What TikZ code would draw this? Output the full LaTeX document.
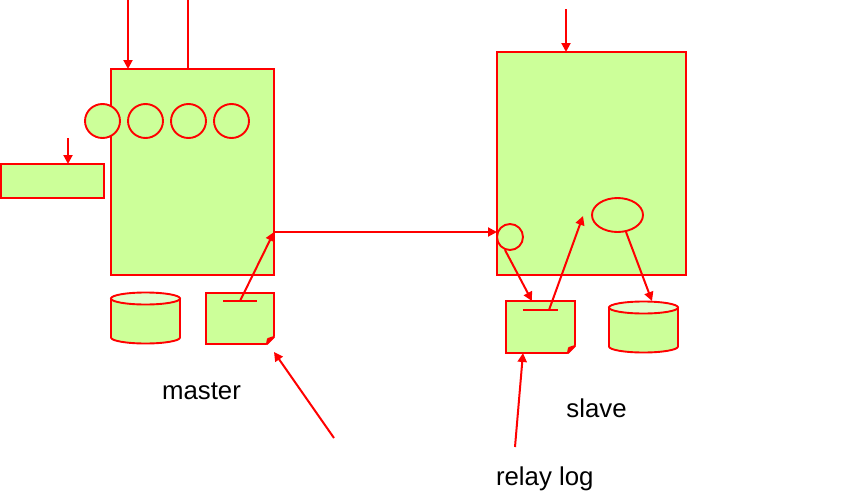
\documentclass[tikz,border=0pt]{standalone}
\usepackage{fontspec}
\setmainfont{Liberation Sans}
\usetikzlibrary{arrows.meta, shapes.geometric}

\definecolor{boxgreen}{HTML}{CCFF99}
\definecolor{boxlight}{HTML}{E0FFCC}

\tikzset{thick line/.style={draw=red, line width=2pt}}
\tikzset{thin line/.style={draw=red, line width=1.9pt}}

% folded corner of a log sheet
\newcommand{\dogear}[1]{
	\fill[white] ([shift={(-8,1)}]#1.south east) -- ([shift={(1,1)}]#1.south east) -- ([shift={(1,-8)}]#1.south east) -- cycle;
	\draw[thick line, fill=red, line join=round] ([shift={(-7,0)}]#1.south east) -- ([shift={(-6,-5)}]#1.south east) -- ([shift={(0,-7)}]#1.south east) -- cycle;
}

% drum outline over an empty node
\newcommand{\drum}[1]{
	\draw[thin line, fill=boxgreen] ([yshift=-6pt]#1.north west) -- ([yshift=6pt]#1.south west) arc[start angle=180, end angle=360, x radius=34.5pt, y radius=6pt] -- ([yshift=-6pt]#1.north east) -- cycle;
	\draw[thin line, fill=boxlight] ([yshift=-6pt]#1.north) ellipse[x radius=34.5pt, y radius=6pt];
}

\begin{document}
\begin{tikzpicture}[x=1pt, y=-1pt,
		box/.style={rectangle, thick line, fill=boxgreen, inner sep=0pt, outer sep=0pt},
		c/.style={ellipse, thin line, fill=boxgreen, inner sep=0pt, outer sep=0pt, minimum width=35pt, minimum height=34pt},
		db/.style={rectangle, inner sep=0pt, outer sep=0pt, minimum width=69pt, minimum height=51pt},
		sheet/.style={box, minimum width=68pt, minimum height=51pt},
		link/.style={-{Triangle[length=9pt, width=9pt]}, thick line},
		caption/.style={font=\fontsize{25.8}{30}\selectfont, inner sep=0pt}]
		\useasboundingbox (0,0) rectangle (863,501);

		\node [box, minimum width=163pt, minimum height=206pt] (master) at (192.5,172) {};
		\node [box, minimum width=189pt, minimum height=223pt] (slave) at (591.5,163.5) {};
		\node [box, minimum width=103pt, minimum height=34pt] (queue) at (52.5,181) {};

		\node [c] (t1) at (102.5,121) {};
		\node [c] (t2) at (145.5,121) {};
		\node [c] (t3) at (188.5,121) {};
		\node [c] (t4) at (231.5,121) {};
		\node [c, minimum width=26pt, minimum height=26pt] (io) at (510,237) {};
		\node [c, minimum width=51pt, minimum height=34pt] (sql) at (617.5,215) {};

		\node [db] (mdata) at (145.5,318) {};
		\node [db] (sdata) at (643.5,327) {};
		\drum{mdata}
		\drum{sdata}
		\node [sheet] (binlog) at (240,318.5) {};
		\node [sheet, minimum width=69pt, minimum height=52pt] (relay) at (540.5,327) {};
		\dogear{binlog}
		\dogear{relay}

		\node [caption] (mlabel) at (201.5,391) {master};
		\node [caption] (slabel) at (596.5,408) {slave};
		\node [caption] (rlabel) at (544.8,479) {relay log};

		% free ends and points on the borders
		\coordinate (in1) at (128,0);
		\coordinate (in1e) at (128,69);
		\coordinate (in2) at (188,0);
		\coordinate (in2e) at (188,69);
		\coordinate (q1) at (68,138);
		\coordinate (q1e) at (68,164);
		\coordinate (in3) at (566,9);
		\coordinate (in3e) at (566,52);
		\coordinate (send) at (274,232);
		\coordinate (recv) at (497,232);
		\coordinate (mt1) at (223,301);
		\coordinate (mt2) at (257,301);
		\coordinate (mt) at (240,301);
		\coordinate (st1) at (523,310);
		\coordinate (st2) at (558,310);
		\coordinate (st) at (549,310);
		\coordinate (sqlin) at (583,216);
		\coordinate (ioout) at (505,250);
		\coordinate (relayin) at (532,301);
		\coordinate (sqlout) at (626,232);
		\coordinate (sdatain) at (652,301);
		\coordinate (mfree) at (334,438);
		\coordinate (mfreee) at (274,352);
		\coordinate (rfree) at (515,447);
		\coordinate (rfreee) at (523,353);

		\draw[link] (in1) -- (in1e);
		\draw[thick line] (in2) -- (in2e);
		\draw[link] (q1) -- (q1e);
		\draw[link] (in3) -- (in3e);
		\draw[link] (send) -- (recv);
		\draw[thick line] (mt1) -- (mt2);
		\draw[link] (mt) -- (send);
		\draw[thick line] (st1) -- (st2);
		\draw[link] (st) -- (sqlin);
		\draw[link] (ioout) -- (relayin);
		\draw[link] (sqlout) -- (sdatain);
		\draw[link] (mfree) -- (mfreee);
		\draw[link] (rfree) -- (rfreee);
	\end{tikzpicture}
\end{document}
